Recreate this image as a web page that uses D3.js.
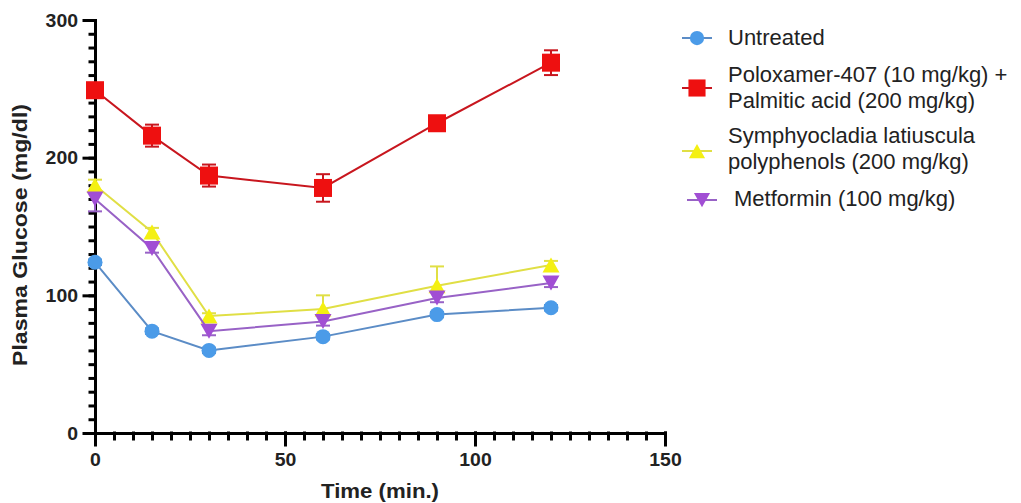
<!DOCTYPE html>
<html>
<head>
<meta charset="utf-8">
<script src="https://cdn.jsdelivr.net/npm/d3@7"></script>
<style>
  html, body { margin: 0; padding: 0; background: #fff; }
  svg { display: block; font-family: "Liberation Sans", Arial, sans-serif; }
</style>
</head>
<body>
<svg id="chart" width="1021" height="503"></svg>
<script>
// Time points (min.)
const times = [0, 15, 30, 60, 90, 120];

// Mean plasma glucose (mg/dl) per group
const untreated = [124, 74, 60, 70, 86, 91];
const poloxamer = [249, 216, 187, 178, 225, 269];
const symphyo = [180, 146, 85, 90, 107, 122];
const metformin = [170, 134, 74, 81, 98, 109];

// Error bar half-lengths (mg/dl)
const untreatedErr = [2, 2, 2, 2, 2, 2];
const poloxamerErr = [4, 8, 8, 10, 3, 9];
const symphyoErr = [4, 3, 2, 10, 14, 3];
const metforminErr = [9, 3, 3, 3, 3, 3];

const legendLabels = [
  ['Untreated'],
  ['Poloxamer-407 (10 mg/kg) +', 'Palmitic acid (200 mg/kg)'],
  ['Symphyocladia latiuscula', 'polyphenols (200 mg/kg)'],
  ['Metformin (100 mg/kg)']
];

const yTicks = [0, 100, 200, 300];
const xTicks = [0, 50, 100, 150];

const series = [
  { values: untreated, err: untreatedErr, dir: 'both', shape: 'circle', fill: '#4b9be8', line: '#5b8cc6' },
  { values: poloxamer, err: poloxamerErr, dir: 'both', shape: 'square', fill: '#ee1010', line: '#c8161e' },
  { values: symphyo, err: symphyoErr, dir: 'up', shape: 'up', fill: '#f4f012', line: '#e0df45' },
  { values: metformin, err: metforminErr, dir: 'down', shape: 'down', fill: '#a14ed4', line: '#9862c6' }
];

const svg = d3.select('#chart');

const x = d3.scaleLinear().domain([0, 150]).range([95, 665]);
const y = d3.scaleLinear().domain([0, 300]).range([433, 20]);

// marker path centred on the point
function markerPath(shape, s) {
  if (shape === 'circle') {
    const r = 7.5 * s;
    return `M${-r},0A${r},${r} 0 1,0 ${r},0A${r},${r} 0 1,0 ${-r},0Z`;
  }
  if (shape === 'square') {
    const h = 9 * s;
    return `M${-h},${-h}H${h}V${h}H${-h}Z`;
  }
  const w = 8.5 * s, h = 7.5 * s;
  if (shape === 'up') return `M0,${-h}L${w},${h}L${-w},${h}Z`;
  return `M0,${h}L${w},${-h}L${-w},${-h}Z`;
}

// axes: minor ticks first, then major
const axisG = svg.append('g');

axisG.append('g')
  .attr('transform', 'translate(95,0)')
  .call(d3.axisLeft(y).tickValues(d3.range(0, 301, 10)).tickSize(5).tickSizeOuter(0).tickFormat(''));
axisG.append('g')
  .attr('transform', 'translate(0,433)')
  .call(d3.axisBottom(x).tickValues(d3.range(0, 151, 5)).tickSize(6).tickSizeOuter(0).tickFormat(''));

const yAxis = axisG.append('g')
  .attr('transform', 'translate(95,0)')
  .call(d3.axisLeft(y).tickValues(yTicks).tickSize(11).tickSizeOuter(0).tickPadding(6));
const xAxis = axisG.append('g')
  .attr('transform', 'translate(0,433)')
  .call(d3.axisBottom(x).tickValues(xTicks).tickSize(12).tickSizeOuter(0).tickPadding(8));

axisG.selectAll('path.domain, .tick line')
  .attr('stroke', '#000')
  .attr('stroke-width', 3)
  .attr('stroke-linecap', 'square');

axisG.selectAll('.tick text')
  .attr('fill', '#222')
  .attr('font-size', 17.5)
  .attr('font-weight', 'bold')
  .attr('font-family', '"Liberation Sans", Arial, sans-serif')
  .attr('lengthAdjust', 'spacingAndGlyphs')
  .attr('textLength', function () { return this.textContent.length * 10.8; });

yAxis.selectAll('.tick text').attr('dy', '0.36em');
xAxis.selectAll('.tick text').attr('dy', '0.74em');

// axis titles
svg.append('text')
  .attr('transform', 'translate(27,235) rotate(-90)')
  .attr('text-anchor', 'middle')
  .attr('font-size', 20)
  .attr('font-weight', 'bold')
  .attr('fill', '#222')
  .attr('lengthAdjust', 'spacingAndGlyphs')
  .attr('textLength', 262)
  .text('Plasma Glucose (mg/dl)');

svg.append('text')
  .attr('x', 380)
  .attr('y', 498)
  .attr('text-anchor', 'middle')
  .attr('font-size', 20)
  .attr('font-weight', 'bold')
  .attr('fill', '#222')
  .attr('lengthAdjust', 'spacingAndGlyphs')
  .attr('textLength', 118)
  .text('Time (min.)');

// series
const line = d3.line().x((d) => x(d.t)).y((d) => y(d.v));

series.forEach((s) => {
  const pts = times.map((t, i) => ({ t, v: s.values[i], e: s.err[i] }));
  const g = svg.append('g');

  g.append('path')
    .datum(pts)
    .attr('d', line)
    .attr('fill', 'none')
    .attr('stroke', s.line)
    .attr('stroke-width', 2);

  const eb = g.selectAll('g.err').data(pts).join('g').attr('class', 'err')
    .attr('stroke', s.line).attr('stroke-width', 2);
  eb.append('line')
    .attr('x1', (d) => x(d.t)).attr('x2', (d) => x(d.t))
    .attr('y1', (d) => y(s.dir === 'up' ? d.v : d.v - d.e))
    .attr('y2', (d) => y(s.dir === 'down' ? d.v : d.v + d.e));
  if (s.dir !== 'down') {
    eb.append('line')
      .attr('x1', (d) => x(d.t) - 7).attr('x2', (d) => x(d.t) + 7)
      .attr('y1', (d) => y(d.v + d.e)).attr('y2', (d) => y(d.v + d.e));
  }
  if (s.dir !== 'up') {
    eb.append('line')
      .attr('x1', (d) => x(d.t) - 7).attr('x2', (d) => x(d.t) + 7)
      .attr('y1', (d) => y(d.v - d.e)).attr('y2', (d) => y(d.v - d.e));
  }

  g.selectAll('path.mark').data(pts).join('path')
    .attr('class', 'mark')
    .attr('transform', (d) => `translate(${x(d.t)},${y(d.v)})`)
    .attr('d', markerPath(s.shape, 1))
    .attr('fill', s.fill);
});

// legend
const legendRows = [
  { my: 38, lines: [45] },
  { my: 88, lines: [82, 108] },
  { my: 151, lines: [143, 169] },
  { my: 200, lines: [206] }
];

const legend = svg.append('g');
series.forEach((s, i) => {
  const row = legendRows[i];
  const mx = i === 3 ? 702 : 697;
  const tx = i === 3 ? 734 : 728;
  legend.append('line')
    .attr('x1', mx - 15).attr('x2', mx + 15)
    .attr('y1', row.my).attr('y2', row.my)
    .attr('stroke', s.line).attr('stroke-width', 2);
  legend.append('path')
    .attr('transform', `translate(${mx},${row.my})`)
    .attr('d', markerPath(s.shape, 0.95))
    .attr('fill', s.fill);
  legendLabels[i].forEach((txt, j) => {
    legend.append('text')
      .attr('x', tx)
      .attr('y', row.lines[j])
      .attr('font-size', 22)
      .attr('fill', '#222')
      .text(txt);
  });
});
</script>
</body>
</html>
